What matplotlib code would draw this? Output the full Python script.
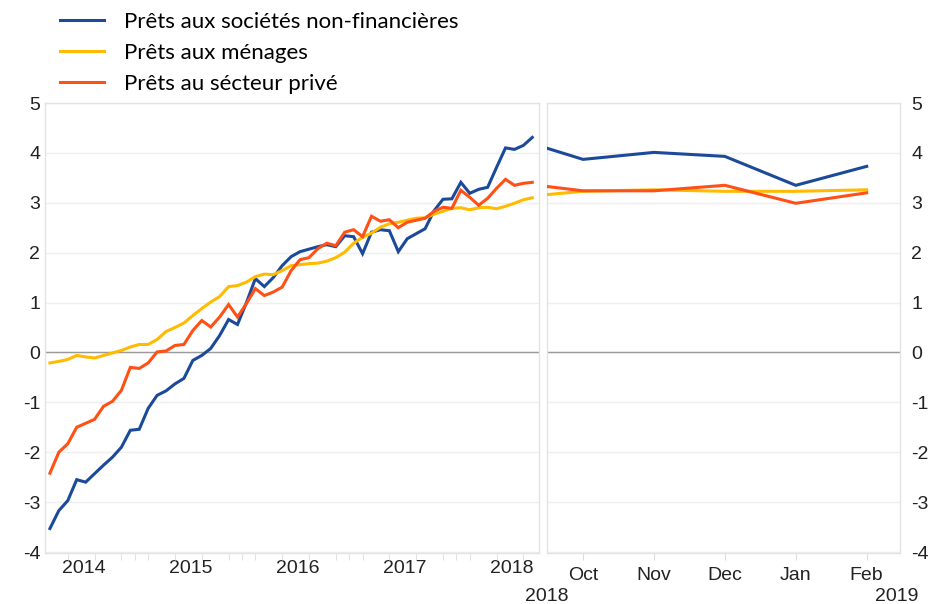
import numpy as np
import pandas as pd
import matplotlib
matplotlib.use("Agg")
import matplotlib.pyplot as plt
import matplotlib.transforms as mtransforms

# ---------------- data ----------------
months_left = pd.period_range("2014-03", "2018-09", freq="M")

nfc = [-3.53, -3.17, -2.97, -2.55, -2.60, -2.43, -2.26, -2.10, -1.90, -1.56,
       -1.54, -1.12, -0.86, -0.77, -0.63, -0.52, -0.16, -0.06, 0.08, 0.34,
       0.66, 0.56, 1.00, 1.48, 1.32, 1.50, 1.74, 1.92, 2.02, 2.07,
       2.12, 2.16, 2.12, 2.34, 2.32, 1.98, 2.41, 2.46, 2.44, 2.02,
       2.28, 2.38, 2.48, 2.84, 3.07, 3.08, 3.41, 3.19, 3.27, 3.31,
       3.71, 4.10, 4.07, 4.15, 4.31]

households = [-0.21, -0.18, -0.14, -0.06, -0.09, -0.11, -0.06, -0.01, 0.04, 0.11,
              0.16, 0.16, 0.26, 0.42, 0.50, 0.59, 0.74, 0.88, 1.01, 1.12,
              1.32, 1.34, 1.41, 1.52, 1.57, 1.56, 1.64, 1.74, 1.76, 1.78,
              1.79, 1.83, 1.90, 2.01, 2.19, 2.31, 2.39, 2.51, 2.58, 2.61,
              2.65, 2.69, 2.70, 2.77, 2.83, 2.89, 2.90, 2.86, 2.90, 2.91,
              2.88, 2.93, 2.99, 3.06, 3.10]

private = [-2.42, -2.00, -1.83, -1.50, -1.42, -1.34, -1.08, -0.98, -0.76, -0.30,
           -0.32, -0.21, 0.01, 0.03, 0.14, 0.16, 0.44, 0.64, 0.51, 0.71,
           0.96, 0.71, 0.98, 1.28, 1.14, 1.21, 1.31, 1.64, 1.86, 1.90,
           2.08, 2.19, 2.14, 2.41, 2.46, 2.32, 2.73, 2.63, 2.66, 2.50,
           2.61, 2.65, 2.69, 2.83, 2.91, 2.89, 3.25, 3.11, 2.95, 3.09,
           3.29, 3.47, 3.35, 3.39, 3.41]

months_right = ["Sep", "Oct", "Nov", "Dec", "Jan", "Feb"]
nfc_r = [4.31, 3.87, 4.01, 3.93, 3.35, 3.73]
households_r = [3.10, 3.23, 3.26, 3.23, 3.23, 3.26]
private_r = [3.41, 3.24, 3.24, 3.35, 2.99, 3.20]

year_labels = ["2014", "2015", "2016", "2017", "2018"]
yticks = [-4, -3, -2, -1, 0, 1, 2, 3, 4, 5]

labels = ["Prêts aux sociétés non-financières", "Prêts aux ménages",
          "Prêts au sécteur privé"]
colors = ["#1b4a9b", "#ffbb00", "#ff5016"]

# ---------------- figure ----------------
plt.rcParams["font.family"] = ["Liberation Sans", "DejaVu Sans"]
fig = plt.figure(figsize=(9.34, 6.04), dpi=100)

axL = fig.add_axes([45 / 934, 1 - 553 / 604, (539 - 45) / 934, (553 - 103) / 604])
axR = fig.add_axes([546.5 / 934, 1 - 553 / 604, (900 - 546.5) / 934, (553 - 103) / 604])

xl = np.arange(len(months_left))
xr = np.arange(len(months_right))

lines = []
for ax, xs, series in [(axL, xl, [nfc, households, private]),
                       (axR, xr, [nfc_r, households_r, private_r])]:
    for s, c in zip(series, colors):
        ln, = ax.plot(xs, s, color=c, lw=2.2, solid_joinstyle="miter", zorder=3)
        if ax is axL:
            lines.append(ln)
    ax.set_ylim(-4.02, 5.0)
    ax.set_yticks(yticks)
    ax.grid(axis="y", color="#efefef", lw=1.0, zorder=0)
    ax.axhline(0, color="#9a9a9a", lw=1.0, zorder=2)
    for sp in ax.spines.values():
        sp.set_color("#e3e3e3")
        sp.set_linewidth(1.0)
    ax.tick_params(axis="y", length=0, labelsize=14, colors="#222222")
    ax.tick_params(axis="x", which="both", colors="#dddddd", labelcolor="#222222",
                   labelsize=14, length=5, pad=5)

# left panel x axis
axL.set_xlim(-0.55, 54.75)
july_idx = [i for i, p in enumerate(months_left) if p.month == 7]
axL.set_xticks([i - 0.25 for i in july_idx])
axL.set_xticklabels(year_labels)
axL.tick_params(axis="x", which="major", length=0)
minor = [i for i, p in enumerate(months_left) if p.month in (2, 5, 8, 11)]
minor += [i - 0.5 for i, p in enumerate(months_left) if p.month == 1]
axL.set_xticks(minor, minor=True)
axL.tick_params(axis="x", which="minor", length=5)
axL.yaxis.set_ticks_position("left")
axL.set_yticklabels([str(t) for t in yticks])

# right panel
axR.set_xlim(0.485, 5.47)
axR.set_xticks(xr[1:])
axR.set_xticklabels(months_right[1:])
axR.yaxis.tick_right()
axR.tick_params(axis="y", pad=8)
axR.set_yticklabels([str(t) for t in yticks])
trans = mtransforms.blended_transform_factory(axR.transData, axR.transAxes)
axR.text(0.485, -0.097, "2018", transform=trans, ha="center", va="center",
         fontsize=14, color="#222222")
axR.text(5.42, -0.097, "2019", transform=trans, ha="center", va="center",
         fontsize=14, color="#222222")

# legend
fig.legend(lines, labels, loc="upper left", bbox_to_anchor=(60 / 934, 1 - 12 / 604),
           frameon=False, prop={"family": "Lato", "size": 16},
           handlelength=2.0, handletextpad=0.9, labelspacing=0.5,
           borderpad=0, borderaxespad=0)

fig.savefig("out.png", dpi=100)
